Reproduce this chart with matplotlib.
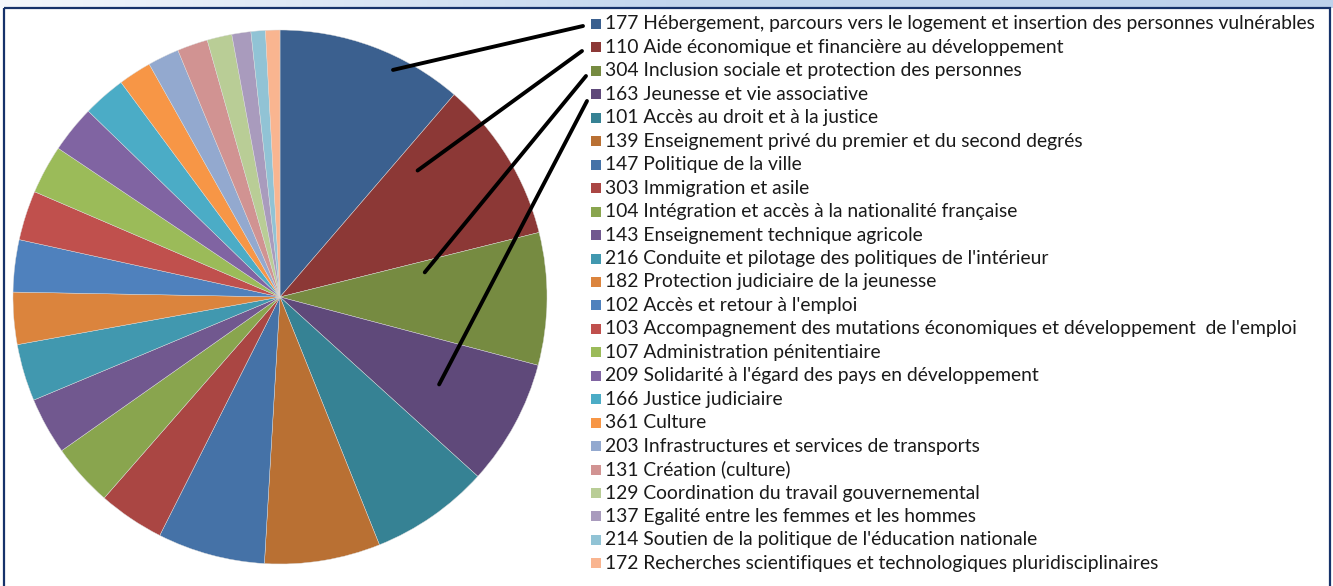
import numpy as np
import matplotlib
matplotlib.use("Agg")
import matplotlib.pyplot as plt
from matplotlib.patches import Rectangle

# programmes (code + libelle) et part de chaque secteur (%)
codes = [177, 110, 304, 163, 101, 139, 147, 303, 104, 143, 216, 182,
         102, 103, 107, 209, 166, 361, 203, 131, 129, 137, 214, 172]
names = [
    "Hébergement, parcours vers le logement et insertion des personnes vulnérables",
    "Aide économique et financière au développement",
    "Inclusion sociale et protection des personnes",
    "Jeunesse et vie associative",
    "Accès au droit et à la justice",
    "Enseignement privé du premier et du second degrés",
    "Politique de la ville",
    "Immigration et asile",
    "Intégration et accès à la nationalité française",
    "Enseignement technique agricole",
    "Conduite et pilotage des politiques de l'intérieur",
    "Protection judiciaire de la jeunesse",
    "Accès et retour à l'emploi",
    "Accompagnement des mutations économiques et développement  de l'emploi",
    "Administration pénitentiaire",
    "Solidarité à l'égard des pays en développement",
    "Justice judiciaire",
    "Culture",
    "Infrastructures et services de transports",
    "Création (culture)",
    "Coordination du travail gouvernemental",
    "Egalité entre les femmes et les hommes",
    "Soutien de la politique de l'éducation nationale",
    "Recherches scientifiques et technologiques pluridisciplinaires",
]
shares = [11.3, 9.8, 8.0, 7.6, 7.2, 7.0, 6.5, 4.0, 3.8, 3.45, 3.45, 3.15,
          3.15, 3.0, 2.95, 2.85, 2.6, 2.0, 1.9, 1.85, 1.5, 1.15, 0.87, 0.87]
colors = ["#3B608F", "#8C3836", "#768B41", "#5F497A", "#368294", "#B97033",
          "#4572A7", "#AA4643", "#89A54E", "#71588F", "#4198AF", "#DB843D",
          "#4F81BD", "#C0504D", "#9BBB59", "#8064A2", "#4BACC6", "#F79646",
          "#93A9CF", "#D19392", "#B9CD96", "#A99BBD", "#91C3D5", "#F9B590"]

# traits de rappel : (indice du secteur, position dans le secteur, rayon)
leaders = [(0, 0.65, 0.95), (1, 0.19, 0.70), (2, 0.15, 0.55), (3, 0.51, 0.68)]
leader_starts = [(583, 26), (582, 51), (586, 76), (587, 101)]

W, H = 1333, 586
fig = plt.figure(figsize=(W / 100, H / 100), dpi=100)

# camembert
cx, cy, R = 280, 297, 267
ax = fig.add_axes([(cx - R) / W, (H - cy - R) / H, 2 * R / W, 2 * R / H])
wedges, _ = ax.pie(shares, colors=colors, startangle=90, counterclock=False,
                   radius=1, wedgeprops=dict(edgecolor="#dcdcdc", linewidth=0.3))
ax.set_xlim(-1, 1)
ax.set_ylim(-1, 1)
ax.set_aspect("equal")
ax.axis("off")

# calque en pixels pour cadre, legende et traits
ov = fig.add_axes([0, 0, 1, 1], zorder=5)
ov.set_xlim(0, W)
ov.set_ylim(H, 0)
ov.axis("off")
ov.patch.set_alpha(0)

grad = np.linspace(0, 1, 256).reshape(1, -1)
ov.imshow(grad, extent=(0, W, 8, 0), aspect="auto", zorder=0,
          cmap=matplotlib.colors.LinearSegmentedColormap.from_list(
              "bande", ["#F4F7FC", "#C3D6EE", "#BDD2EC"]))
ov.add_patch(Rectangle((4, 8), 1326, 620, fill=False, edgecolor="#16326A", lw=1.6))

y0, pitch = 24, 23.45
for i, (c, n, col) in enumerate(zip(codes, names, colors)):
    y = y0 + i * pitch
    ov.add_patch(Rectangle((591, y - 5), 10, 10, facecolor=col, edgecolor="none"))
    ov.text(605, y, f"{c} {n}", fontsize=13.9, family="Lato", color="#1a1a1a",
            va="center", ha="left")

total = sum(shares)
for (k, t, r), (sx, sy) in zip(leaders, leader_starts):
    a0 = 360 * sum(shares[:k]) / total
    a1 = 360 * sum(shares[:k + 1]) / total
    ang = np.deg2rad(90 - (a0 + t * (a1 - a0)))
    ov.annotate("", xy=(r * np.cos(ang), r * np.sin(ang)), xycoords=ax.transData,
                xytext=(sx, sy), textcoords="data",
                arrowprops=dict(arrowstyle="-", lw=2.8, color="black",
                                shrinkA=0, shrinkB=0))

fig.savefig("out.png", dpi=100)
